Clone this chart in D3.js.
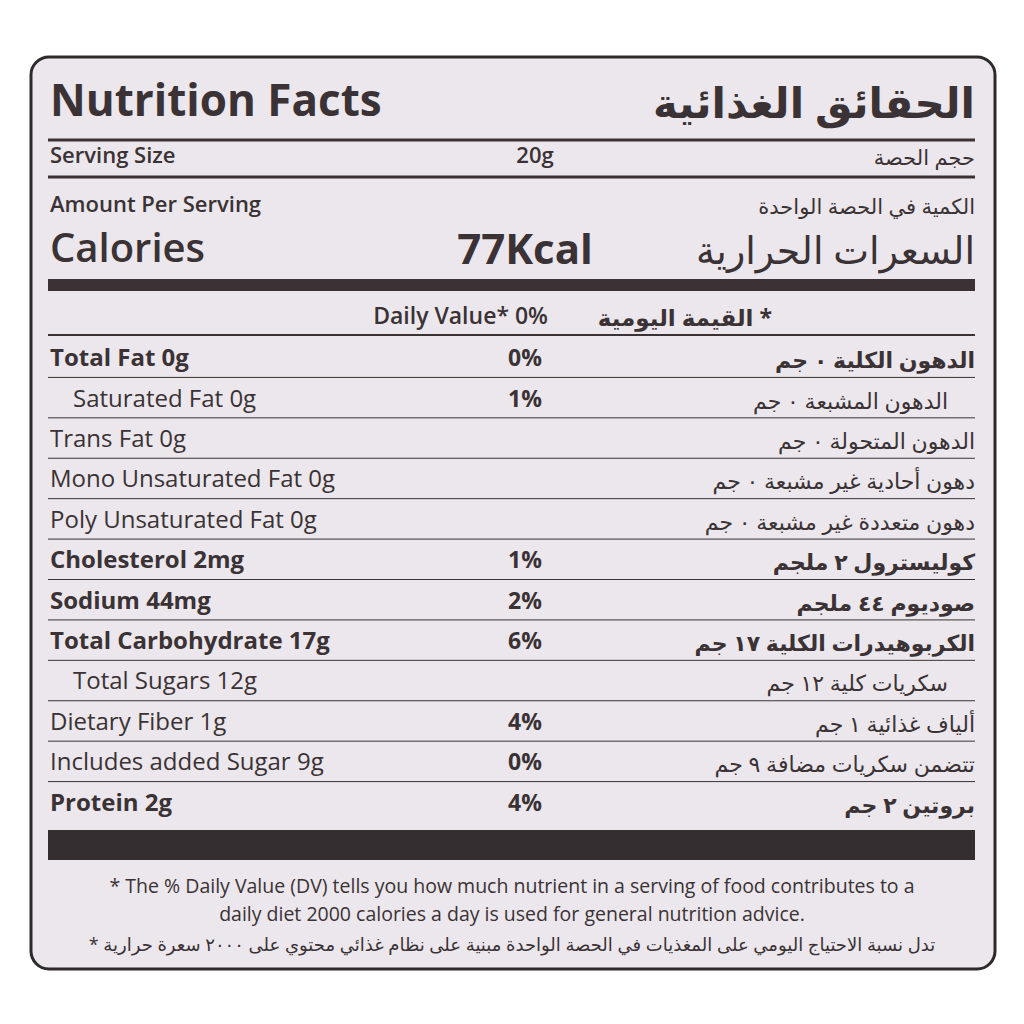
<!DOCTYPE html>
<html><head><meta charset="utf-8">
<script src="https://cdn.jsdelivr.net/npm/d3@7"></script>
<style>body{margin:0;background:#fff}</style></head>
<body><svg id="c" width="1024" height="1024"></svg>
<script>
const nutrients = ["Total Fat 0g","Saturated Fat 0g","Trans Fat 0g","Mono Unsaturated Fat 0g","Poly Unsaturated Fat 0g","Cholesterol 2mg","Sodium 44mg","Total Carbohydrate 17g","Total Sugars 12g","Dietary Fiber 1g","Includes added Sugar 9g","Protein 2g"]
const percents = ["0%","1%","","","","1%","2%","6%","","4%","0%","4%"]
const arabic = ["الدهون الكلية ٠ جم","الدهون المشبعة ٠ جم","الدهون المتحولة ٠ جم","دهون أحادية غير مشبعة ٠ جم","دهون متعددة غير مشبعة ٠ جم","كوليسترول ٢ ملجم","صوديوم ٤٤ ملجم","الكربوهيدرات الكلية ١٧ جم","سكريات كلية ١٢ جم","ألياف غذائية ١ جم","تتضمن سكريات مضافة ٩ جم","بروتين ٢ جم"]
const bold = [true,false,false,false,false,true,true,true,false,false,false,true]
const indent = [false,true,false,false,false,false,false,false,true,false,false,false]

const ink = "#3a3234"
const font = "'Open Sans', 'DejaVu Sans', sans-serif"
const svg = d3.select("#c")
svg.append("rect").attr("x",0).attr("y",0).attr("width",1024).attr("height",1024).attr("fill","#fff")
svg.append("rect").attr("x",31).attr("y",57).attr("width",964).attr("height",912).attr("rx",18)
    .attr("fill","#ebe7ec").attr("stroke","#2e2a2c").attr("stroke-width",3)

function txt(x, y, s, size, weight, anchor) {
    return svg.append("text").attr("x",x).attr("y",y).text(s)
        .attr("font-family",font).attr("font-size",size).attr("font-weight",weight || "normal")
        .attr("text-anchor",anchor || "start").attr("fill",ink)
}
function line(y, w) {
    svg.append("line").attr("x1",48).attr("x2",975).attr("y1",y).attr("y2",y).attr("stroke",ink).attr("stroke-width",w)
}

txt(50,116,"Nutrition Facts",44,"bold")
txt(975,118,"الحقائق الغذائية",42,"bold","end")
line(140,3)
txt(50,163,"Serving Size",22,"600")
txt(535,163,"20g",22,"600","middle")
txt(975,165,"حجم الحصة",21,"normal","end")
line(177,3)
txt(50,212,"Amount Per Serving",22,"600")
txt(975,214,"الكمية في الحصة الواحدة",21,"normal","end")
txt(50,262,"Calories",40,"600")
txt(525,264,"77Kcal",42,"bold","middle")
txt(975,264,"السعرات الحرارية",38,"normal","end")
svg.append("rect").attr("x",48).attr("y",279).attr("width",927).attr("height",12).attr("fill",ink)
txt(548,324,"Daily Value* 0%",23,"600","end")
txt(772,326,"القيمة اليومية *",23,"bold","end")
line(335,2)

const y = d3.scaleBand().domain(d3.range(nutrients.length)).range([337,822])
nutrients.forEach((n, i) => {
    const base = y(i) + y.bandwidth() * 0.72
    txt(indent[i] ? 73 : 50, base, n, 24, bold[i] ? "bold" : "normal")
    txt(525, base, percents[i], 23, "bold", "middle")
    txt(indent[i] ? 948 : 975, base + 2, arabic[i], 22, bold[i] ? "bold" : "normal", "end")
    if (i < nutrients.length - 1) line(y(i) + y.bandwidth(), 1)
})
svg.append("rect").attr("x",48).attr("y",830).attr("width",927).attr("height",30).attr("fill","#352e30")

txt(512,893,"* The % Daily Value (DV) tells you how much nutrient in a serving of food contributes to a",19.5,"normal","middle")
txt(512,921,"daily diet 2000 calories a day is used for general nutrition advice.",19.5,"normal","middle")
txt(512,951,"* تدل نسبة الاحتياج اليومي على المغذيات في الحصة الواحدة مبنية على نظام غذائي محتوي على ٢٠٠٠ سعرة حرارية",18,"normal","middle")
</script></body></html>
